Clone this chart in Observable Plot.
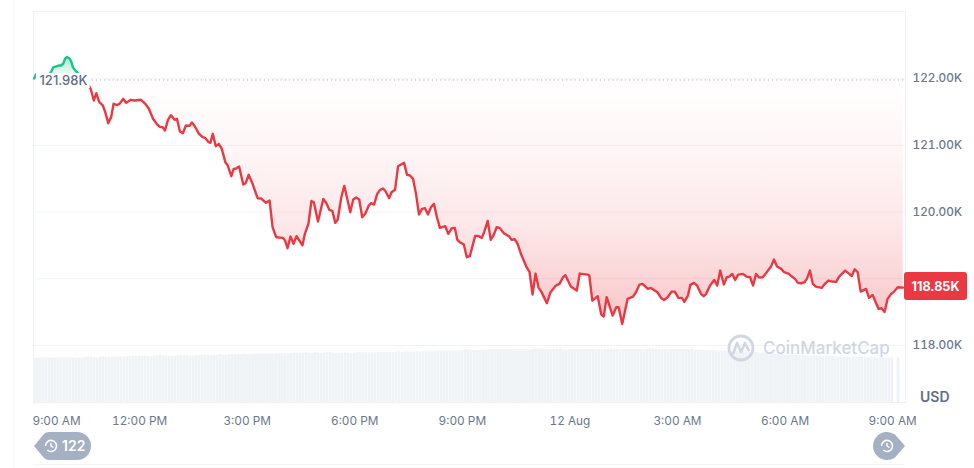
<!DOCTYPE html>
<html>
<head>
<meta charset="utf-8">
<script src="https://cdn.jsdelivr.net/npm/d3@7"></script>
<script src="https://cdn.jsdelivr.net/npm/@observablehq/plot@0.6"></script>
<style>
html,body{margin:0;padding:0;background:#fff;width:974px;height:468px;overflow:hidden}
#wrap{position:relative;width:974px;height:468px;font-family:Inter,sans-serif}
#wrap>svg{position:absolute;left:0;top:0;display:block}
</style>
</head>
<body>
<div id="wrap"></div>
<script>
// minutes after 9:00 AM on 11 Aug
const minutes = [1,4,9,16,23,29,33,38,43,46,50,53,56,60,63,66,73,80,86,
91,96,101,105,110,116,120,125,130,134,140,145,150,155,163,169,180,187,193,200,207,212,216,220,225,230,236,240,245,250,255,261,265,269,277,283,287,293,296,300,305,310,315,321,325,331,335,339,344,351,355,360,367,375,381,389,395,400,406,417,421,425,430,435,440,450,454,460,465,469,476,
485,490,495,500,505,509,515,520,530,535,540,545,550,555,561,565,570,575,580,585,589,595,599,605,610,620,625,630,635,640,645,650,655,660,665,670,675,680,689,694,700,705,709,714,720,725,730,739,744,750,754,760,765,770,775,780,787,796,800,805,810,816,825,830,835,840,845,850,859,
865,874,880,886,890,899,909,914,927,930,935,944,950,954,959,969,975,979,985,994,1003,1008,1014,1019,1028,1033,1044,1050,1055,1061,1068,1073,1079,1085,1089,1095,1099,1105,1110,1117,1121,1125,1132,1139,1144,1149,1155,1160,1164,1169,1174,1179,1187,1193,1199,1204,1209,1214,1220,1226,1234,1239,1244,1251,1256,1264,1269,1274,1279,1284,1290,1294,1299,1304,1309,1319,1323,1330,1336,1343,1348,1358,1365,1369,1374,1379,1384,1393,1398,1404,1414,1419,1424,1429,1435,1440,1446,1455];
// price in thousands of USD
const prices = [122.003,122.063,122.033,122.063,122.018,122.093,122.168,122.183,122.198,122.198,122.228,122.303,122.325,122.303,122.258,122.168,122.093,122.048,121.98,
121.928,121.838,121.673,121.783,121.648,121.598,121.498,121.333,121.423,121.623,121.603,121.633,121.698,121.638,121.683,121.673,121.683,121.623,121.548,121.398,121.313,121.273,121.273,121.223,121.383,121.453,121.383,121.398,121.208,121.183,121.298,121.293,121.343,121.298,121.173,121.123,121.113,121.048,121.038,121.173,120.988,121.023,120.948,120.748,120.698,120.538,120.648,120.653,120.683,120.413,120.433,120.558,120.413,120.208,120.203,120.138,120.173,119.773,119.623,119.613,119.573,119.458,119.633,119.523,119.638,119.503,119.673,119.823,120.166,120.148,119.858,
120.198,120.133,120.033,120.018,119.838,119.888,120.223,120.393,119.998,120.188,120.218,120.188,119.923,119.973,120.098,120.133,120.113,120.273,120.333,120.353,120.313,120.208,120.298,120.333,120.688,120.738,120.558,120.548,120.498,120.273,119.963,120.048,120.058,119.963,120.073,120.123,119.923,119.763,119.788,119.673,119.758,119.763,119.588,119.543,119.513,119.323,119.338,119.643,119.643,119.613,119.698,119.868,119.583,119.658,119.773,119.763,119.683,119.633,119.583,119.593,119.523,119.363,119.173,119.098,118.763,119.078,118.868,118.800,118.633,
118.798,118.898,118.923,119.023,119.053,118.883,118.823,119.078,119.063,119.048,118.673,118.738,118.463,118.433,118.723,118.448,118.573,118.573,118.323,118.698,118.733,118.798,118.913,118.923,118.848,118.863,118.798,118.713,118.683,118.723,118.808,118.808,118.713,118.713,118.653,118.748,118.908,118.938,118.903,118.773,118.738,118.766,118.898,118.983,118.898,119.123,118.913,119.023,119.033,119.073,118.983,119.063,119.073,119.033,119.023,118.898,119.073,119.018,119.023,119.088,119.183,119.288,119.183,119.148,119.098,119.073,119.033,118.998,118.938,118.933,118.948,118.998,119.123,118.923,118.883,118.863,118.913,118.973,118.958,118.953,119.033,119.123,119.073,119.038,119.143,119.098,118.808,118.848,118.713,118.758,118.548,118.558,118.503,118.698,118.773,118.808,118.873,118.868];
// 24h volume, billions of USD, one bar per 5 minutes
const volumes = [45,45,45,45,45,45,45,45,45,45,45,45,45,45,45,45,45,45.5,46,46,
45.5,45,46,46,45.5,45.5,46,46,46,46,46,46.5,47,47,47,47,47,47,46.5,46.5,
47,47,47.5,47,47,47,47,47,47.5,47.5,47.5,47.5,47,47,47.5,47.5,48,48,48,47.5,
48,48,48.5,48,48,48.5,48.5,48.5,48.5,48.5,49,48.5,48.5,49,49,49,49,49,49,49,
49,49.5,49.5,49.5,49.5,49.5,50,50,50,50,50,50.5,50,50,50.5,50,50,50,50.5,50.5,
50,50,50,50,50,49.5,49.5,50,50.5,50.5,50.5,50.5,50.5,50.5,50.5,51,51,51,51,51,
51,51,51.5,51,51,51.5,51,51,51.5,51,51.5,51.5,51.5,51.5,51.5,52,52,52,52,52,
52,52,52,52.5,53.5,53.5,53,53,52.5,52.5,53,53,53.5,53.5,53.5,53.5,53.5,53.5,53.5,53.5,
53.5,53.5,53.5,53.5,53.5,53.5,53.5,54,54.5,54,54,54,54,54,54,54,54.5,53.5,53.5,53.5,
53.5,53.5,53.5,53.5,53.5,53.5,53.5,53.5,53.5,53.5,53.5,54,54.5,54,54,54,53.5,53.5,53.5,53.5,
53.5,53.5,53.5,53.5,53.5,54,54.5,54,54,53.5,53.5,53.5,53.5,53.5,53.5,53.5,53.5,53.5,53.5,53.5,
54,53,53,53,53,52.5,52.5,52.5,52,52,52,52,51.5,51.5,51.5,51.5,51.5,51.5,51,51,
51,50.5,50.5,50,50,50,49.5,49.5,49,49,48.5,48.5,48,48,48,48,47.5,47.5,47,47,
47,47,47,47,46.5,46.5,46.5,46.5,46,46,46,46,46,46,46,45.5,45.5,45.5,45.5,45.5,
45.5,45.5,45,45,45,45,45,45,0,45];
const timeTickHours = [0,3,6,9,12,15,18,21,24];
const timeTickLabels = ["9:00 AM","12:00 PM","3:00 PM","6:00 PM","9:00 PM","12 Aug","3:00 AM","6:00 AM","9:00 AM"];
const priceTicks = [118,119,120,121,122];
const priceTickLabelled = [118,120,121,122]; // 119 sits behind the current-price tag
const openPrice = 121.98;
const lastPrice = 118.85;
const lastPriceLabel = "118.85K";
const openPriceLabel = "121.98K";
const historyCount = "122";

const start = new Date(2025,7,11,9,0,0);
const at = m => new Date(+start + m*60000);
const rows = minutes.map((m,i)=>({t:at(m),m,p:prices[i]}));
const up = rows.filter(d=>d.m<=86);
const down = rows.filter(d=>d.m>=86);
const yMin = 117.145, yMax = 123.007;
const volY = v => yMin + v*0.0148;
const bars = volumes.map((v,k)=>({a:at(k*5),b:at(k*5+4.6),v})).filter(d=>d.v>0);
const tickDates = timeTickHours.map(h=>at(h*60));
const labelFor = new Map(tickDates.map((d,i)=>[+d,timeTickLabels[i]]));

const gradients = () => {
  const defs = d3.create("svg:defs");
  const r = defs.append("linearGradient").attr("id","redFade").attr("x1",0).attr("x2",0).attr("y1",0).attr("y2",1);
  [[0,0],[0.3,0.05],[0.6,0.12],[0.8,0.2],[1,0.3]].forEach(([o,a])=>
    r.append("stop").attr("offset",o).attr("stop-color","#ea3943").attr("stop-opacity",a));
  const g = defs.append("linearGradient").attr("id","greenFade").attr("x1",0).attr("x2",0).attr("y1",0).attr("y2",1);
  g.append("stop").attr("offset",0).attr("stop-color","#16c784").attr("stop-opacity",0.34);
  g.append("stop").attr("offset",1).attr("stop-color","#16c784").attr("stop-opacity",0.0);
  return defs.node();
};

const axisText = {fill:"#6b778c",fontSize:11.8,tickSize:0};
const chart = Plot.plot({
  width:974, height:468,
  marginLeft:33, marginRight:69, marginTop:11, marginBottom:66,
  style:{background:"transparent",fontFamily:"Inter, sans-serif",overflow:"visible"},
  x:{type:"time",domain:[at(0),at(1459)],axis:null},
  y:{domain:[yMin,yMax],axis:null},
  marks:[
    gradients,
    Plot.ruleY(priceTicks,{stroke:"#f1f3f6",strokeWidth:1}),
    Plot.frame({stroke:"#eff2f5",strokeWidth:1}),
    Plot.rect(bars,{x1:"a",x2:"b",y1:yMin,y2:d=>volY(d.v),fill:"#f0f3f6"}),
    Plot.areaY(up,{x:"t",y1:openPrice,y2:"p",fill:"url(#greenFade)"}),
    Plot.areaY(down,{x:"t",y1:openPrice,y2:"p",fill:"url(#redFade)"}),
    Plot.line(up,{x:"t",y:"p",stroke:"#16c784",strokeWidth:2.4}),
    Plot.line(down,{x:"t",y:"p",stroke:"#ea3943",strokeWidth:2.4}),
    Plot.ruleY([openPrice],{x1:at(98),x2:at(1459),stroke:"#a6b0c3",strokeWidth:1.2,strokeDasharray:"1.2,3"}),
    Plot.rect([0],{x1:at(5),x2:at(95),y1:121.853,y2:122.078,fill:"#fff"}),
    Plot.text([openPriceLabel],{x:at(10),y:openPrice,dy:1,text:d=>d,textAnchor:"start",fill:"#616e85",fontSize:13,fontWeight:500}),
    Plot.axisY(priceTickLabelled,{...axisText,anchor:"right",label:null,tickPadding:7,tickFormat:d=>d.toFixed(2)+"K",fontWeight:500}),
    Plot.axisX(tickDates.slice(1),{...axisText,anchor:"bottom",label:null,tickPadding:14,dx:-1.5,tickFormat:d=>labelFor.get(+d)}),
    Plot.axisX(tickDates.slice(0,1),{...axisText,anchor:"bottom",label:null,tickPadding:14,dx:-1,tickFormat:d=>labelFor.get(+d),textAnchor:"start"})
  ]
});
document.getElementById("wrap").appendChild(chart);

// chrome: price tag, USD unit, watermark, history pills, page rules
const overlay = d3.select("#wrap").append("svg").attr("width",974).attr("height",468).style("pointer-events","none");
overlay.append("line").attr("x1",14).attr("x2",14).attr("y1",0).attr("y2",468).attr("stroke","#f5f6f8");
overlay.append("line").attr("x1",33).attr("x2",905).attr("y1",464.5).attr("y2",464.5).attr("stroke","#f5f6f8");
// price tag
overlay.append("rect").attr("x",904).attr("y",272).attr("width",63).attr("height",28).attr("rx",3).attr("fill","#ea3943");
overlay.append("text").attr("x",935.5).attr("y",291).attr("text-anchor","middle").attr("fill","#fff").attr("font-size",12.6).attr("font-weight",700).text(lastPriceLabel);
overlay.append("text").attr("x",920).attr("y",402).attr("fill","#616e85").attr("font-size",14).attr("font-weight",600).text("USD");
// watermark
overlay.append("circle").attr("cx",741).attr("cy",348).attr("r",12).attr("fill","none").attr("stroke","#cfd6e4").attr("stroke-width",2.8);
overlay.append("path").attr("d","M733 354 L737 343 L741 352 L745 343 L749 351").attr("fill","none").attr("stroke","#cfd6e4").attr("stroke-width",2.6).attr("stroke-linejoin","round");
overlay.append("text").attr("x",763).attr("y",354).attr("fill","#cfd6e4").attr("font-size",17).attr("font-weight",500).text("CoinMarketCap");
// left pill
const pill = "#a6b0c3";
overlay.append("path").attr("d","M34 446 L44 434 Q46 432 49 432 L77 432 A14 14 0 0 1 77 460 L49 460 Q46 460 44 458 Z").attr("fill",pill);
const clock = (cx,cy) => {
  overlay.append("path").attr("d",`M${cx-5.5} ${cy} A5.5 5.5 0 1 1 ${cx-3.7} ${cy+4}`).attr("fill","none").attr("stroke","#fff").attr("stroke-width",1.6);
  overlay.append("path").attr("d",`M${cx} ${cy-3} V${cy} L${cx+2.5} ${cy+1.5}`).attr("fill","none").attr("stroke","#fff").attr("stroke-width",1.4);
};
clock(51,446);
overlay.append("text").attr("x",62).attr("y",451).attr("fill","#fff").attr("font-size",14).attr("font-weight",600).text(historyCount);
// right pill
overlay.append("path").attr("d","M905 446 L895 434.5 A14 14 0 1 0 895 457.5 Z").attr("fill",pill);
clock(887,446);
</script>
</body>
</html>
